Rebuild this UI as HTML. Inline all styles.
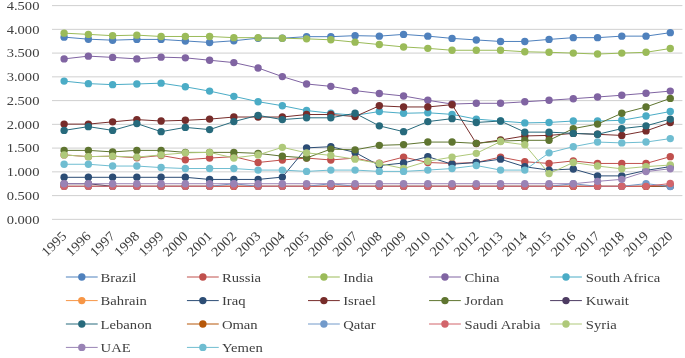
<!DOCTYPE html>
<html><head><meta charset="utf-8"><title>Chart</title>
<style>
html,body{margin:0;padding:0;background:#fff;}
svg{display:block;}
text{font-family:"Liberation Serif","Times New Roman",serif;fill:#404040;}
.ax{font-size:13.4px;}
.lg{font-size:13.5px;}
</style></head><body>
<svg width="685" height="358" viewBox="0 0 685 358">
<rect width="685" height="358" fill="#fff"/>
<line x1="52.0" x2="682.4" y1="219.35" y2="219.35" stroke="#CBCBCB" stroke-width="0.9"/>
<text class="ax" text-anchor="end" transform="translate(39.4,223.55) scale(1.085,1)">0.000</text>
<line x1="52.0" x2="682.4" y1="195.60" y2="195.60" stroke="#CBCBCB" stroke-width="0.9"/>
<text class="ax" text-anchor="end" transform="translate(39.4,199.80) scale(1.085,1)">0.500</text>
<line x1="52.0" x2="682.4" y1="171.85" y2="171.85" stroke="#CBCBCB" stroke-width="0.9"/>
<text class="ax" text-anchor="end" transform="translate(39.4,176.05) scale(1.085,1)">1.000</text>
<line x1="52.0" x2="682.4" y1="148.10" y2="148.10" stroke="#CBCBCB" stroke-width="0.9"/>
<text class="ax" text-anchor="end" transform="translate(39.4,152.30) scale(1.085,1)">1.500</text>
<line x1="52.0" x2="682.4" y1="124.35" y2="124.35" stroke="#CBCBCB" stroke-width="0.9"/>
<text class="ax" text-anchor="end" transform="translate(39.4,128.55) scale(1.085,1)">2.000</text>
<line x1="52.0" x2="682.4" y1="100.60" y2="100.60" stroke="#CBCBCB" stroke-width="0.9"/>
<text class="ax" text-anchor="end" transform="translate(39.4,104.80) scale(1.085,1)">2.500</text>
<line x1="52.0" x2="682.4" y1="76.85" y2="76.85" stroke="#CBCBCB" stroke-width="0.9"/>
<text class="ax" text-anchor="end" transform="translate(39.4,81.05) scale(1.085,1)">3.000</text>
<line x1="52.0" x2="682.4" y1="53.10" y2="53.10" stroke="#CBCBCB" stroke-width="0.9"/>
<text class="ax" text-anchor="end" transform="translate(39.4,57.30) scale(1.085,1)">3.500</text>
<line x1="52.0" x2="682.4" y1="29.35" y2="29.35" stroke="#CBCBCB" stroke-width="0.9"/>
<text class="ax" text-anchor="end" transform="translate(39.4,33.55) scale(1.085,1)">4.000</text>
<line x1="52.0" x2="682.4" y1="5.60" y2="5.60" stroke="#CBCBCB" stroke-width="0.9"/>
<text class="ax" text-anchor="end" transform="translate(39.4,9.80) scale(1.085,1)">4.500</text>
<g fill="#4F81BD" stroke="none"><polyline points="64.12,37.14 88.37,39.18 112.62,40.18 136.86,39.42 161.11,39.42 185.35,40.94 209.60,42.46 233.85,40.75 258.09,38.19 282.34,38.19 306.58,36.66 330.83,36.66 355.08,35.67 379.32,36.14 403.57,34.38 427.82,36.14 452.06,38.38 476.31,39.94 500.55,41.46 524.80,41.46 549.05,39.42 573.29,37.66 597.54,37.66 621.78,36.14 646.03,36.14 670.28,32.67" fill="none" stroke="#4F81BD" stroke-width="1.0" stroke-linejoin="round"/>
<circle cx="64.12" cy="37.14" r="3.7"/><circle cx="88.37" cy="39.18" r="3.7"/><circle cx="112.62" cy="40.18" r="3.7"/><circle cx="136.86" cy="39.42" r="3.7"/><circle cx="161.11" cy="39.42" r="3.7"/><circle cx="185.35" cy="40.94" r="3.7"/><circle cx="209.60" cy="42.46" r="3.7"/><circle cx="233.85" cy="40.75" r="3.7"/><circle cx="258.09" cy="38.19" r="3.7"/><circle cx="282.34" cy="38.19" r="3.7"/><circle cx="306.58" cy="36.66" r="3.7"/><circle cx="330.83" cy="36.66" r="3.7"/><circle cx="355.08" cy="35.67" r="3.7"/><circle cx="379.32" cy="36.14" r="3.7"/><circle cx="403.57" cy="34.38" r="3.7"/><circle cx="427.82" cy="36.14" r="3.7"/><circle cx="452.06" cy="38.38" r="3.7"/><circle cx="476.31" cy="39.94" r="3.7"/><circle cx="500.55" cy="41.46" r="3.7"/><circle cx="524.80" cy="41.46" r="3.7"/><circle cx="549.05" cy="39.42" r="3.7"/><circle cx="573.29" cy="37.66" r="3.7"/><circle cx="597.54" cy="37.66" r="3.7"/><circle cx="621.78" cy="36.14" r="3.7"/><circle cx="646.03" cy="36.14" r="3.7"/><circle cx="670.28" cy="32.67" r="3.7"/>
</g>
<g fill="#C0504D" stroke="none"><polyline points="64.12,154.89 88.37,156.65 112.62,156.17 136.86,157.84 161.11,155.46 185.35,159.69 209.60,158.07 233.85,156.65 258.09,162.49 282.34,159.97 306.58,158.07 330.83,159.97 355.08,158.07 379.32,163.30 403.57,157.12 427.82,162.49 452.06,163.44 476.31,162.49 500.55,157.12 524.80,161.73 549.05,163.44 573.29,160.93 597.54,163.44 621.78,163.44 646.03,163.44 670.28,156.65" fill="none" stroke="#C0504D" stroke-width="1.0" stroke-linejoin="round"/>
<circle cx="64.12" cy="154.89" r="3.7"/><circle cx="88.37" cy="156.65" r="3.7"/><circle cx="112.62" cy="156.17" r="3.7"/><circle cx="136.86" cy="157.84" r="3.7"/><circle cx="161.11" cy="155.46" r="3.7"/><circle cx="185.35" cy="159.69" r="3.7"/><circle cx="209.60" cy="158.07" r="3.7"/><circle cx="233.85" cy="156.65" r="3.7"/><circle cx="258.09" cy="162.49" r="3.7"/><circle cx="282.34" cy="159.97" r="3.7"/><circle cx="306.58" cy="158.07" r="3.7"/><circle cx="330.83" cy="159.97" r="3.7"/><circle cx="355.08" cy="158.07" r="3.7"/><circle cx="379.32" cy="163.30" r="3.7"/><circle cx="403.57" cy="157.12" r="3.7"/><circle cx="427.82" cy="162.49" r="3.7"/><circle cx="452.06" cy="163.44" r="3.7"/><circle cx="476.31" cy="162.49" r="3.7"/><circle cx="500.55" cy="157.12" r="3.7"/><circle cx="524.80" cy="161.73" r="3.7"/><circle cx="549.05" cy="163.44" r="3.7"/><circle cx="573.29" cy="160.93" r="3.7"/><circle cx="597.54" cy="163.44" r="3.7"/><circle cx="621.78" cy="163.44" r="3.7"/><circle cx="646.03" cy="163.44" r="3.7"/><circle cx="670.28" cy="156.65" r="3.7"/>
</g>
<g fill="#9BBB59" stroke="none"><polyline points="64.12,33.15 88.37,34.38 112.62,35.67 136.86,35.14 161.11,36.47 185.35,36.47 209.60,36.47 233.85,37.66 258.09,37.66 282.34,38.19 306.58,38.85 330.83,39.80 355.08,42.17 379.32,44.55 403.57,46.93 427.82,48.35 452.06,50.25 476.31,50.25 500.55,50.25 524.80,51.77 549.05,52.29 573.29,53.10 597.54,54.05 621.78,53.10 646.03,52.29 670.28,48.49" fill="none" stroke="#9BBB59" stroke-width="1.0" stroke-linejoin="round"/>
<circle cx="64.12" cy="33.15" r="3.7"/><circle cx="88.37" cy="34.38" r="3.7"/><circle cx="112.62" cy="35.67" r="3.7"/><circle cx="136.86" cy="35.14" r="3.7"/><circle cx="161.11" cy="36.47" r="3.7"/><circle cx="185.35" cy="36.47" r="3.7"/><circle cx="209.60" cy="36.47" r="3.7"/><circle cx="233.85" cy="37.66" r="3.7"/><circle cx="258.09" cy="37.66" r="3.7"/><circle cx="282.34" cy="38.19" r="3.7"/><circle cx="306.58" cy="38.85" r="3.7"/><circle cx="330.83" cy="39.80" r="3.7"/><circle cx="355.08" cy="42.17" r="3.7"/><circle cx="379.32" cy="44.55" r="3.7"/><circle cx="403.57" cy="46.93" r="3.7"/><circle cx="427.82" cy="48.35" r="3.7"/><circle cx="452.06" cy="50.25" r="3.7"/><circle cx="476.31" cy="50.25" r="3.7"/><circle cx="500.55" cy="50.25" r="3.7"/><circle cx="524.80" cy="51.77" r="3.7"/><circle cx="549.05" cy="52.29" r="3.7"/><circle cx="573.29" cy="53.10" r="3.7"/><circle cx="597.54" cy="54.05" r="3.7"/><circle cx="621.78" cy="53.10" r="3.7"/><circle cx="646.03" cy="52.29" r="3.7"/><circle cx="670.28" cy="48.49" r="3.7"/>
</g>
<g fill="#8064A2" stroke="none"><polyline points="64.12,58.89 88.37,56.14 112.62,57.38 136.86,58.89 161.11,57.14 185.35,57.85 209.60,60.22 233.85,62.60 258.09,67.97 282.34,76.61 306.58,83.97 330.83,86.35 355.08,90.62 379.32,93.47 403.57,95.99 427.82,100.27 452.06,104.07 476.31,103.31 500.55,103.31 524.80,101.79 549.05,100.27 573.29,98.70 597.54,96.99 621.78,95.23 646.03,93.24 670.28,91.10" fill="none" stroke="#8064A2" stroke-width="1.0" stroke-linejoin="round"/>
<circle cx="64.12" cy="58.89" r="3.7"/><circle cx="88.37" cy="56.14" r="3.7"/><circle cx="112.62" cy="57.38" r="3.7"/><circle cx="136.86" cy="58.89" r="3.7"/><circle cx="161.11" cy="57.14" r="3.7"/><circle cx="185.35" cy="57.85" r="3.7"/><circle cx="209.60" cy="60.22" r="3.7"/><circle cx="233.85" cy="62.60" r="3.7"/><circle cx="258.09" cy="67.97" r="3.7"/><circle cx="282.34" cy="76.61" r="3.7"/><circle cx="306.58" cy="83.97" r="3.7"/><circle cx="330.83" cy="86.35" r="3.7"/><circle cx="355.08" cy="90.62" r="3.7"/><circle cx="379.32" cy="93.47" r="3.7"/><circle cx="403.57" cy="95.99" r="3.7"/><circle cx="427.82" cy="100.27" r="3.7"/><circle cx="452.06" cy="104.07" r="3.7"/><circle cx="476.31" cy="103.31" r="3.7"/><circle cx="500.55" cy="103.31" r="3.7"/><circle cx="524.80" cy="101.79" r="3.7"/><circle cx="549.05" cy="100.27" r="3.7"/><circle cx="573.29" cy="98.70" r="3.7"/><circle cx="597.54" cy="96.99" r="3.7"/><circle cx="621.78" cy="95.23" r="3.7"/><circle cx="646.03" cy="93.24" r="3.7"/><circle cx="670.28" cy="91.10" r="3.7"/>
</g>
<g fill="#4BACC6" stroke="none"><polyline points="64.12,81.12 88.37,83.64 112.62,84.64 136.86,83.97 161.11,83.17 185.35,86.82 209.60,91.10 233.85,96.33 258.09,101.69 282.34,105.73 306.58,110.57 330.83,113.19 355.08,115.33 379.32,111.52 403.57,113.28 427.82,112.76 452.06,114.38 476.31,119.12 500.55,121.03 524.80,122.92 549.05,122.45 573.29,121.03 597.54,121.03 621.78,120.31 646.03,116.04 670.28,111.52" fill="none" stroke="#4BACC6" stroke-width="1.0" stroke-linejoin="round"/>
<circle cx="64.12" cy="81.12" r="3.7"/><circle cx="88.37" cy="83.64" r="3.7"/><circle cx="112.62" cy="84.64" r="3.7"/><circle cx="136.86" cy="83.97" r="3.7"/><circle cx="161.11" cy="83.17" r="3.7"/><circle cx="185.35" cy="86.82" r="3.7"/><circle cx="209.60" cy="91.10" r="3.7"/><circle cx="233.85" cy="96.33" r="3.7"/><circle cx="258.09" cy="101.69" r="3.7"/><circle cx="282.34" cy="105.73" r="3.7"/><circle cx="306.58" cy="110.57" r="3.7"/><circle cx="330.83" cy="113.19" r="3.7"/><circle cx="355.08" cy="115.33" r="3.7"/><circle cx="379.32" cy="111.52" r="3.7"/><circle cx="403.57" cy="113.28" r="3.7"/><circle cx="427.82" cy="112.76" r="3.7"/><circle cx="452.06" cy="114.38" r="3.7"/><circle cx="476.31" cy="119.12" r="3.7"/><circle cx="500.55" cy="121.03" r="3.7"/><circle cx="524.80" cy="122.92" r="3.7"/><circle cx="549.05" cy="122.45" r="3.7"/><circle cx="573.29" cy="121.03" r="3.7"/><circle cx="597.54" cy="121.03" r="3.7"/><circle cx="621.78" cy="120.31" r="3.7"/><circle cx="646.03" cy="116.04" r="3.7"/><circle cx="670.28" cy="111.52" r="3.7"/>
</g>
<g fill="#F79646" stroke="none"><polyline points="64.12,186.34 88.37,186.34 112.62,186.34 136.86,186.34 161.11,186.34 185.35,186.34 209.60,186.34 233.85,186.34 258.09,186.34 282.34,186.34 306.58,186.34 330.83,186.34 355.08,186.34 379.32,186.34 403.57,186.34 427.82,186.34 452.06,186.34 476.31,186.34 500.55,186.34 524.80,186.34 549.05,186.34 573.29,186.34 597.54,186.34 621.78,186.34 646.03,186.34 670.28,185.39" fill="none" stroke="#F79646" stroke-width="1.0" stroke-linejoin="round"/>
<circle cx="64.12" cy="186.34" r="3.7"/><circle cx="88.37" cy="186.34" r="3.7"/><circle cx="112.62" cy="186.34" r="3.7"/><circle cx="136.86" cy="186.34" r="3.7"/><circle cx="161.11" cy="186.34" r="3.7"/><circle cx="185.35" cy="186.34" r="3.7"/><circle cx="209.60" cy="186.34" r="3.7"/><circle cx="233.85" cy="186.34" r="3.7"/><circle cx="258.09" cy="186.34" r="3.7"/><circle cx="282.34" cy="186.34" r="3.7"/><circle cx="306.58" cy="186.34" r="3.7"/><circle cx="330.83" cy="186.34" r="3.7"/><circle cx="355.08" cy="186.34" r="3.7"/><circle cx="379.32" cy="186.34" r="3.7"/><circle cx="403.57" cy="186.34" r="3.7"/><circle cx="427.82" cy="186.34" r="3.7"/><circle cx="452.06" cy="186.34" r="3.7"/><circle cx="476.31" cy="186.34" r="3.7"/><circle cx="500.55" cy="186.34" r="3.7"/><circle cx="524.80" cy="186.34" r="3.7"/><circle cx="549.05" cy="186.34" r="3.7"/><circle cx="573.29" cy="186.34" r="3.7"/><circle cx="597.54" cy="186.34" r="3.7"/><circle cx="621.78" cy="186.34" r="3.7"/><circle cx="646.03" cy="186.34" r="3.7"/><circle cx="670.28" cy="185.39" r="3.7"/>
</g>
<g fill="#2C4D75" stroke="none"><polyline points="64.12,177.31 88.37,177.31 112.62,177.31 136.86,177.31 161.11,177.31 185.35,177.31 209.60,179.45 233.85,179.45 258.09,179.45 282.34,177.12 306.58,147.86 330.83,146.68 355.08,152.38 379.32,165.53 403.57,163.01 427.82,156.65 452.06,164.25 476.31,162.49 500.55,159.17 524.80,166.77 549.05,170.09 573.29,169.00 597.54,175.89 621.78,175.89 646.03,170.42 670.28,166.62" fill="none" stroke="#2C4D75" stroke-width="1.0" stroke-linejoin="round"/>
<circle cx="64.12" cy="177.31" r="3.7"/><circle cx="88.37" cy="177.31" r="3.7"/><circle cx="112.62" cy="177.31" r="3.7"/><circle cx="136.86" cy="177.31" r="3.7"/><circle cx="161.11" cy="177.31" r="3.7"/><circle cx="185.35" cy="177.31" r="3.7"/><circle cx="209.60" cy="179.45" r="3.7"/><circle cx="233.85" cy="179.45" r="3.7"/><circle cx="258.09" cy="179.45" r="3.7"/><circle cx="282.34" cy="177.12" r="3.7"/><circle cx="306.58" cy="147.86" r="3.7"/><circle cx="330.83" cy="146.68" r="3.7"/><circle cx="355.08" cy="152.38" r="3.7"/><circle cx="379.32" cy="165.53" r="3.7"/><circle cx="403.57" cy="163.01" r="3.7"/><circle cx="427.82" cy="156.65" r="3.7"/><circle cx="452.06" cy="164.25" r="3.7"/><circle cx="476.31" cy="162.49" r="3.7"/><circle cx="500.55" cy="159.17" r="3.7"/><circle cx="524.80" cy="166.77" r="3.7"/><circle cx="549.05" cy="170.09" r="3.7"/><circle cx="573.29" cy="169.00" r="3.7"/><circle cx="597.54" cy="175.89" r="3.7"/><circle cx="621.78" cy="175.89" r="3.7"/><circle cx="646.03" cy="170.42" r="3.7"/><circle cx="670.28" cy="166.62" r="3.7"/>
</g>
<g fill="#772C2A" stroke="none"><polyline points="64.12,124.11 88.37,124.11 112.62,121.83 136.86,119.60 161.11,121.03 185.35,120.31 209.60,119.12 233.85,117.03 258.09,117.03 282.34,117.03 306.58,114.52 330.83,114.52 355.08,116.56 379.32,105.82 403.57,106.96 427.82,106.96 452.06,104.68 476.31,143.49 500.55,140.02 524.80,135.94 549.05,135.42 573.29,133.38 597.54,134.32 621.78,135.42 646.03,130.90 670.28,122.45" fill="none" stroke="#772C2A" stroke-width="1.0" stroke-linejoin="round"/>
<circle cx="64.12" cy="124.11" r="3.7"/><circle cx="88.37" cy="124.11" r="3.7"/><circle cx="112.62" cy="121.83" r="3.7"/><circle cx="136.86" cy="119.60" r="3.7"/><circle cx="161.11" cy="121.03" r="3.7"/><circle cx="185.35" cy="120.31" r="3.7"/><circle cx="209.60" cy="119.12" r="3.7"/><circle cx="233.85" cy="117.03" r="3.7"/><circle cx="258.09" cy="117.03" r="3.7"/><circle cx="282.34" cy="117.03" r="3.7"/><circle cx="306.58" cy="114.52" r="3.7"/><circle cx="330.83" cy="114.52" r="3.7"/><circle cx="355.08" cy="116.56" r="3.7"/><circle cx="379.32" cy="105.82" r="3.7"/><circle cx="403.57" cy="106.96" r="3.7"/><circle cx="427.82" cy="106.96" r="3.7"/><circle cx="452.06" cy="104.68" r="3.7"/><circle cx="476.31" cy="143.49" r="3.7"/><circle cx="500.55" cy="140.02" r="3.7"/><circle cx="524.80" cy="135.94" r="3.7"/><circle cx="549.05" cy="135.42" r="3.7"/><circle cx="573.29" cy="133.38" r="3.7"/><circle cx="597.54" cy="134.32" r="3.7"/><circle cx="621.78" cy="135.42" r="3.7"/><circle cx="646.03" cy="130.90" r="3.7"/><circle cx="670.28" cy="122.45" r="3.7"/>
</g>
<g fill="#5F7530" stroke="none"><polyline points="64.12,150.38 88.37,150.38 112.62,151.90 136.86,150.38 161.11,150.38 185.35,152.38 209.60,152.38 233.85,152.38 258.09,153.37 282.34,156.17 306.58,157.93 330.83,149.10 355.08,149.86 379.32,145.34 403.57,144.58 427.82,142.07 452.06,142.07 476.31,143.35 500.55,141.07 524.80,140.31 549.05,140.31 573.29,128.62 597.54,124.11 621.78,113.28 646.03,106.96 670.28,98.42" fill="none" stroke="#5F7530" stroke-width="1.0" stroke-linejoin="round"/>
<circle cx="64.12" cy="150.38" r="3.7"/><circle cx="88.37" cy="150.38" r="3.7"/><circle cx="112.62" cy="151.90" r="3.7"/><circle cx="136.86" cy="150.38" r="3.7"/><circle cx="161.11" cy="150.38" r="3.7"/><circle cx="185.35" cy="152.38" r="3.7"/><circle cx="209.60" cy="152.38" r="3.7"/><circle cx="233.85" cy="152.38" r="3.7"/><circle cx="258.09" cy="153.37" r="3.7"/><circle cx="282.34" cy="156.17" r="3.7"/><circle cx="306.58" cy="157.93" r="3.7"/><circle cx="330.83" cy="149.10" r="3.7"/><circle cx="355.08" cy="149.86" r="3.7"/><circle cx="379.32" cy="145.34" r="3.7"/><circle cx="403.57" cy="144.58" r="3.7"/><circle cx="427.82" cy="142.07" r="3.7"/><circle cx="452.06" cy="142.07" r="3.7"/><circle cx="476.31" cy="143.35" r="3.7"/><circle cx="500.55" cy="141.07" r="3.7"/><circle cx="524.80" cy="140.31" r="3.7"/><circle cx="549.05" cy="140.31" r="3.7"/><circle cx="573.29" cy="128.62" r="3.7"/><circle cx="597.54" cy="124.11" r="3.7"/><circle cx="621.78" cy="113.28" r="3.7"/><circle cx="646.03" cy="106.96" r="3.7"/><circle cx="670.28" cy="98.42" r="3.7"/>
</g>
<g fill="#4D3B62" stroke="none"><polyline points="64.12,183.72 88.37,183.72 112.62,186.34 136.86,186.34 161.11,186.34 185.35,186.34 209.60,186.34 233.85,186.34 258.09,186.34 282.34,186.34 306.58,186.34 330.83,186.34 355.08,186.34 379.32,186.34 403.57,186.34 427.82,186.34 452.06,186.34 476.31,186.34 500.55,186.34 524.80,186.34 549.05,186.34 573.29,186.34 597.54,186.34 621.78,186.34 646.03,186.34 670.28,186.34" fill="none" stroke="#4D3B62" stroke-width="1.0" stroke-linejoin="round"/>
<circle cx="64.12" cy="183.72" r="3.7"/><circle cx="88.37" cy="183.72" r="3.7"/><circle cx="112.62" cy="186.34" r="3.7"/><circle cx="136.86" cy="186.34" r="3.7"/><circle cx="161.11" cy="186.34" r="3.7"/><circle cx="185.35" cy="186.34" r="3.7"/><circle cx="209.60" cy="186.34" r="3.7"/><circle cx="233.85" cy="186.34" r="3.7"/><circle cx="258.09" cy="186.34" r="3.7"/><circle cx="282.34" cy="186.34" r="3.7"/><circle cx="306.58" cy="186.34" r="3.7"/><circle cx="330.83" cy="186.34" r="3.7"/><circle cx="355.08" cy="186.34" r="3.7"/><circle cx="379.32" cy="186.34" r="3.7"/><circle cx="403.57" cy="186.34" r="3.7"/><circle cx="427.82" cy="186.34" r="3.7"/><circle cx="452.06" cy="186.34" r="3.7"/><circle cx="476.31" cy="186.34" r="3.7"/><circle cx="500.55" cy="186.34" r="3.7"/><circle cx="524.80" cy="186.34" r="3.7"/><circle cx="549.05" cy="186.34" r="3.7"/><circle cx="573.29" cy="186.34" r="3.7"/><circle cx="597.54" cy="186.34" r="3.7"/><circle cx="621.78" cy="186.34" r="3.7"/><circle cx="646.03" cy="186.34" r="3.7"/><circle cx="670.28" cy="186.34" r="3.7"/>
</g>
<g fill="#276A7C" stroke="none"><polyline points="64.12,130.38 88.37,126.63 112.62,130.38 136.86,123.59 161.11,131.66 185.35,127.39 209.60,129.62 233.85,121.59 258.09,115.33 282.34,119.60 306.58,117.80 330.83,117.80 355.08,113.28 379.32,125.87 403.57,131.66 427.82,121.59 452.06,118.65 476.31,122.45 500.55,121.03 524.80,132.14 549.05,132.14 573.29,133.38 597.54,134.32 621.78,128.62 646.03,125.87 670.28,119.12" fill="none" stroke="#276A7C" stroke-width="1.0" stroke-linejoin="round"/>
<circle cx="64.12" cy="130.38" r="3.7"/><circle cx="88.37" cy="126.63" r="3.7"/><circle cx="112.62" cy="130.38" r="3.7"/><circle cx="136.86" cy="123.59" r="3.7"/><circle cx="161.11" cy="131.66" r="3.7"/><circle cx="185.35" cy="127.39" r="3.7"/><circle cx="209.60" cy="129.62" r="3.7"/><circle cx="233.85" cy="121.59" r="3.7"/><circle cx="258.09" cy="115.33" r="3.7"/><circle cx="282.34" cy="119.60" r="3.7"/><circle cx="306.58" cy="117.80" r="3.7"/><circle cx="330.83" cy="117.80" r="3.7"/><circle cx="355.08" cy="113.28" r="3.7"/><circle cx="379.32" cy="125.87" r="3.7"/><circle cx="403.57" cy="131.66" r="3.7"/><circle cx="427.82" cy="121.59" r="3.7"/><circle cx="452.06" cy="118.65" r="3.7"/><circle cx="476.31" cy="122.45" r="3.7"/><circle cx="500.55" cy="121.03" r="3.7"/><circle cx="524.80" cy="132.14" r="3.7"/><circle cx="549.05" cy="132.14" r="3.7"/><circle cx="573.29" cy="133.38" r="3.7"/><circle cx="597.54" cy="134.32" r="3.7"/><circle cx="621.78" cy="128.62" r="3.7"/><circle cx="646.03" cy="125.87" r="3.7"/><circle cx="670.28" cy="119.12" r="3.7"/>
</g>
<g fill="#B65708" stroke="none"><polyline points="64.12,186.34 88.37,186.34 112.62,186.34 136.86,186.34 161.11,186.34 185.35,186.34 209.60,186.34 233.85,186.34 258.09,186.34 282.34,186.34 306.58,186.34 330.83,186.34 355.08,186.34 379.32,186.34 403.57,186.34 427.82,186.34 452.06,186.34 476.31,186.34 500.55,186.34 524.80,186.34 549.05,186.34 573.29,186.34 597.54,186.34 621.78,186.34 646.03,186.34 670.28,185.86" fill="none" stroke="#B65708" stroke-width="1.0" stroke-linejoin="round"/>
<circle cx="64.12" cy="186.34" r="3.7"/><circle cx="88.37" cy="186.34" r="3.7"/><circle cx="112.62" cy="186.34" r="3.7"/><circle cx="136.86" cy="186.34" r="3.7"/><circle cx="161.11" cy="186.34" r="3.7"/><circle cx="185.35" cy="186.34" r="3.7"/><circle cx="209.60" cy="186.34" r="3.7"/><circle cx="233.85" cy="186.34" r="3.7"/><circle cx="258.09" cy="186.34" r="3.7"/><circle cx="282.34" cy="186.34" r="3.7"/><circle cx="306.58" cy="186.34" r="3.7"/><circle cx="330.83" cy="186.34" r="3.7"/><circle cx="355.08" cy="186.34" r="3.7"/><circle cx="379.32" cy="186.34" r="3.7"/><circle cx="403.57" cy="186.34" r="3.7"/><circle cx="427.82" cy="186.34" r="3.7"/><circle cx="452.06" cy="186.34" r="3.7"/><circle cx="476.31" cy="186.34" r="3.7"/><circle cx="500.55" cy="186.34" r="3.7"/><circle cx="524.80" cy="186.34" r="3.7"/><circle cx="549.05" cy="186.34" r="3.7"/><circle cx="573.29" cy="186.34" r="3.7"/><circle cx="597.54" cy="186.34" r="3.7"/><circle cx="621.78" cy="186.34" r="3.7"/><circle cx="646.03" cy="186.34" r="3.7"/><circle cx="670.28" cy="185.86" r="3.7"/>
</g>
<g fill="#729ACA" stroke="none"><polyline points="64.12,186.34 88.37,186.34 112.62,186.34 136.86,186.34 161.11,186.34 185.35,186.34 209.60,186.34 233.85,183.72 258.09,186.34 282.34,186.34 306.58,186.34 330.83,183.72 355.08,186.34 379.32,186.34 403.57,186.34 427.82,186.34 452.06,186.34 476.31,186.34 500.55,186.34 524.80,186.34 549.05,186.34 573.29,183.72 597.54,186.34 621.78,186.34 646.03,183.63 670.28,186.48" fill="none" stroke="#729ACA" stroke-width="1.0" stroke-linejoin="round"/>
<circle cx="64.12" cy="186.34" r="3.7"/><circle cx="88.37" cy="186.34" r="3.7"/><circle cx="112.62" cy="186.34" r="3.7"/><circle cx="136.86" cy="186.34" r="3.7"/><circle cx="161.11" cy="186.34" r="3.7"/><circle cx="185.35" cy="186.34" r="3.7"/><circle cx="209.60" cy="186.34" r="3.7"/><circle cx="233.85" cy="183.72" r="3.7"/><circle cx="258.09" cy="186.34" r="3.7"/><circle cx="282.34" cy="186.34" r="3.7"/><circle cx="306.58" cy="186.34" r="3.7"/><circle cx="330.83" cy="183.72" r="3.7"/><circle cx="355.08" cy="186.34" r="3.7"/><circle cx="379.32" cy="186.34" r="3.7"/><circle cx="403.57" cy="186.34" r="3.7"/><circle cx="427.82" cy="186.34" r="3.7"/><circle cx="452.06" cy="186.34" r="3.7"/><circle cx="476.31" cy="186.34" r="3.7"/><circle cx="500.55" cy="186.34" r="3.7"/><circle cx="524.80" cy="186.34" r="3.7"/><circle cx="549.05" cy="186.34" r="3.7"/><circle cx="573.29" cy="183.72" r="3.7"/><circle cx="597.54" cy="186.34" r="3.7"/><circle cx="621.78" cy="186.34" r="3.7"/><circle cx="646.03" cy="183.63" r="3.7"/><circle cx="670.28" cy="186.48" r="3.7"/>
</g>
<g fill="#D2646B" stroke="none"><polyline points="64.12,186.34 88.37,186.34 112.62,186.34 136.86,186.34 161.11,186.34 185.35,186.34 209.60,186.34 233.85,186.34 258.09,186.34 282.34,186.34 306.58,186.34 330.83,186.34 355.08,186.34 379.32,186.34 403.57,186.34 427.82,186.34 452.06,186.34 476.31,186.34 500.55,186.34 524.80,186.34 549.05,186.34 573.29,186.34 597.54,186.34 621.78,186.34 646.03,186.34 670.28,183.49" fill="none" stroke="#D2646B" stroke-width="1.0" stroke-linejoin="round"/>
<circle cx="64.12" cy="186.34" r="3.7"/><circle cx="88.37" cy="186.34" r="3.7"/><circle cx="112.62" cy="186.34" r="3.7"/><circle cx="136.86" cy="186.34" r="3.7"/><circle cx="161.11" cy="186.34" r="3.7"/><circle cx="185.35" cy="186.34" r="3.7"/><circle cx="209.60" cy="186.34" r="3.7"/><circle cx="233.85" cy="186.34" r="3.7"/><circle cx="258.09" cy="186.34" r="3.7"/><circle cx="282.34" cy="186.34" r="3.7"/><circle cx="306.58" cy="186.34" r="3.7"/><circle cx="330.83" cy="186.34" r="3.7"/><circle cx="355.08" cy="186.34" r="3.7"/><circle cx="379.32" cy="186.34" r="3.7"/><circle cx="403.57" cy="186.34" r="3.7"/><circle cx="427.82" cy="186.34" r="3.7"/><circle cx="452.06" cy="186.34" r="3.7"/><circle cx="476.31" cy="186.34" r="3.7"/><circle cx="500.55" cy="186.34" r="3.7"/><circle cx="524.80" cy="186.34" r="3.7"/><circle cx="549.05" cy="186.34" r="3.7"/><circle cx="573.29" cy="186.34" r="3.7"/><circle cx="597.54" cy="186.34" r="3.7"/><circle cx="621.78" cy="186.34" r="3.7"/><circle cx="646.03" cy="186.34" r="3.7"/><circle cx="670.28" cy="183.49" r="3.7"/>
</g>
<g fill="#AFC97A" stroke="none"><polyline points="64.12,154.89 88.37,156.65 112.62,156.17 136.86,157.12 161.11,154.89 185.35,152.85 209.60,152.38 233.85,157.93 258.09,154.89 282.34,147.34 306.58,152.85 330.83,155.41 355.08,159.17 379.32,163.44 403.57,168.52 427.82,161.21 452.06,157.12 476.31,153.37 500.55,141.55 524.80,144.77 549.05,173.61 573.29,162.49 597.54,166.06 621.78,168.81 646.03,166.62 670.28,165.06" fill="none" stroke="#AFC97A" stroke-width="1.0" stroke-linejoin="round"/>
<circle cx="64.12" cy="154.89" r="3.7"/><circle cx="88.37" cy="156.65" r="3.7"/><circle cx="112.62" cy="156.17" r="3.7"/><circle cx="136.86" cy="157.12" r="3.7"/><circle cx="161.11" cy="154.89" r="3.7"/><circle cx="185.35" cy="152.85" r="3.7"/><circle cx="209.60" cy="152.38" r="3.7"/><circle cx="233.85" cy="157.93" r="3.7"/><circle cx="258.09" cy="154.89" r="3.7"/><circle cx="282.34" cy="147.34" r="3.7"/><circle cx="306.58" cy="152.85" r="3.7"/><circle cx="330.83" cy="155.41" r="3.7"/><circle cx="355.08" cy="159.17" r="3.7"/><circle cx="379.32" cy="163.44" r="3.7"/><circle cx="403.57" cy="168.52" r="3.7"/><circle cx="427.82" cy="161.21" r="3.7"/><circle cx="452.06" cy="157.12" r="3.7"/><circle cx="476.31" cy="153.37" r="3.7"/><circle cx="500.55" cy="141.55" r="3.7"/><circle cx="524.80" cy="144.77" r="3.7"/><circle cx="549.05" cy="173.61" r="3.7"/><circle cx="573.29" cy="162.49" r="3.7"/><circle cx="597.54" cy="166.06" r="3.7"/><circle cx="621.78" cy="168.81" r="3.7"/><circle cx="646.03" cy="166.62" r="3.7"/><circle cx="670.28" cy="165.06" r="3.7"/>
</g>
<g fill="#9983B5" stroke="none"><polyline points="64.12,183.72 88.37,183.72 112.62,183.72 136.86,183.72 161.11,183.72 185.35,183.72 209.60,183.72 233.85,183.72 258.09,183.72 282.34,183.72 306.58,183.72 330.83,183.72 355.08,183.72 379.32,183.72 403.57,183.72 427.82,183.72 452.06,183.72 476.31,183.72 500.55,183.72 524.80,183.72 549.05,183.72 573.29,183.72 597.54,181.35 621.78,179.35 646.03,171.61 670.28,168.71" fill="none" stroke="#9983B5" stroke-width="1.0" stroke-linejoin="round"/>
<circle cx="64.12" cy="183.72" r="3.7"/><circle cx="88.37" cy="183.72" r="3.7"/><circle cx="112.62" cy="183.72" r="3.7"/><circle cx="136.86" cy="183.72" r="3.7"/><circle cx="161.11" cy="183.72" r="3.7"/><circle cx="185.35" cy="183.72" r="3.7"/><circle cx="209.60" cy="183.72" r="3.7"/><circle cx="233.85" cy="183.72" r="3.7"/><circle cx="258.09" cy="183.72" r="3.7"/><circle cx="282.34" cy="183.72" r="3.7"/><circle cx="306.58" cy="183.72" r="3.7"/><circle cx="330.83" cy="183.72" r="3.7"/><circle cx="355.08" cy="183.72" r="3.7"/><circle cx="379.32" cy="183.72" r="3.7"/><circle cx="403.57" cy="183.72" r="3.7"/><circle cx="427.82" cy="183.72" r="3.7"/><circle cx="452.06" cy="183.72" r="3.7"/><circle cx="476.31" cy="183.72" r="3.7"/><circle cx="500.55" cy="183.72" r="3.7"/><circle cx="524.80" cy="183.72" r="3.7"/><circle cx="549.05" cy="183.72" r="3.7"/><circle cx="573.29" cy="183.72" r="3.7"/><circle cx="597.54" cy="181.35" r="3.7"/><circle cx="621.78" cy="179.35" r="3.7"/><circle cx="646.03" cy="171.61" r="3.7"/><circle cx="670.28" cy="168.71" r="3.7"/>
</g>
<g fill="#6FBDD1" stroke="none"><polyline points="64.12,164.25 88.37,164.25 112.62,166.06 136.86,166.06 161.11,167.57 185.35,168.52 209.60,168.52 233.85,168.52 258.09,170.09 282.34,170.09 306.58,171.38 330.83,170.09 355.08,170.09 379.32,171.38 403.57,171.38 427.82,170.09 452.06,168.52 476.31,165.53 500.55,170.09 524.80,170.09 549.05,152.85 573.29,146.68 597.54,142.07 621.78,142.88 646.03,142.07 670.28,138.60" fill="none" stroke="#6FBDD1" stroke-width="1.0" stroke-linejoin="round"/>
<circle cx="64.12" cy="164.25" r="3.7"/><circle cx="88.37" cy="164.25" r="3.7"/><circle cx="112.62" cy="166.06" r="3.7"/><circle cx="136.86" cy="166.06" r="3.7"/><circle cx="161.11" cy="167.57" r="3.7"/><circle cx="185.35" cy="168.52" r="3.7"/><circle cx="209.60" cy="168.52" r="3.7"/><circle cx="233.85" cy="168.52" r="3.7"/><circle cx="258.09" cy="170.09" r="3.7"/><circle cx="282.34" cy="170.09" r="3.7"/><circle cx="306.58" cy="171.38" r="3.7"/><circle cx="330.83" cy="170.09" r="3.7"/><circle cx="355.08" cy="170.09" r="3.7"/><circle cx="379.32" cy="171.38" r="3.7"/><circle cx="403.57" cy="171.38" r="3.7"/><circle cx="427.82" cy="170.09" r="3.7"/><circle cx="452.06" cy="168.52" r="3.7"/><circle cx="476.31" cy="165.53" r="3.7"/><circle cx="500.55" cy="170.09" r="3.7"/><circle cx="524.80" cy="170.09" r="3.7"/><circle cx="549.05" cy="152.85" r="3.7"/><circle cx="573.29" cy="146.68" r="3.7"/><circle cx="597.54" cy="142.07" r="3.7"/><circle cx="621.78" cy="142.88" r="3.7"/><circle cx="646.03" cy="142.07" r="3.7"/><circle cx="670.28" cy="138.60" r="3.7"/>
</g>
<text class="ax" text-anchor="end" transform="translate(67.32,236.80) rotate(-45) scale(1.085,1)">1995</text>
<text class="ax" text-anchor="end" transform="translate(91.57,236.80) rotate(-45) scale(1.085,1)">1996</text>
<text class="ax" text-anchor="end" transform="translate(115.82,236.80) rotate(-45) scale(1.085,1)">1997</text>
<text class="ax" text-anchor="end" transform="translate(140.06,236.80) rotate(-45) scale(1.085,1)">1998</text>
<text class="ax" text-anchor="end" transform="translate(164.31,236.80) rotate(-45) scale(1.085,1)">1999</text>
<text class="ax" text-anchor="end" transform="translate(188.55,236.80) rotate(-45) scale(1.085,1)">2000</text>
<text class="ax" text-anchor="end" transform="translate(212.80,236.80) rotate(-45) scale(1.085,1)">2001</text>
<text class="ax" text-anchor="end" transform="translate(237.05,236.80) rotate(-45) scale(1.085,1)">2002</text>
<text class="ax" text-anchor="end" transform="translate(261.29,236.80) rotate(-45) scale(1.085,1)">2003</text>
<text class="ax" text-anchor="end" transform="translate(285.54,236.80) rotate(-45) scale(1.085,1)">2004</text>
<text class="ax" text-anchor="end" transform="translate(309.78,236.80) rotate(-45) scale(1.085,1)">2005</text>
<text class="ax" text-anchor="end" transform="translate(334.03,236.80) rotate(-45) scale(1.085,1)">2006</text>
<text class="ax" text-anchor="end" transform="translate(358.28,236.80) rotate(-45) scale(1.085,1)">2007</text>
<text class="ax" text-anchor="end" transform="translate(382.52,236.80) rotate(-45) scale(1.085,1)">2008</text>
<text class="ax" text-anchor="end" transform="translate(406.77,236.80) rotate(-45) scale(1.085,1)">2009</text>
<text class="ax" text-anchor="end" transform="translate(431.02,236.80) rotate(-45) scale(1.085,1)">2010</text>
<text class="ax" text-anchor="end" transform="translate(455.26,236.80) rotate(-45) scale(1.085,1)">2011</text>
<text class="ax" text-anchor="end" transform="translate(479.51,236.80) rotate(-45) scale(1.085,1)">2012</text>
<text class="ax" text-anchor="end" transform="translate(503.75,236.80) rotate(-45) scale(1.085,1)">2013</text>
<text class="ax" text-anchor="end" transform="translate(528.00,236.80) rotate(-45) scale(1.085,1)">2014</text>
<text class="ax" text-anchor="end" transform="translate(552.25,236.80) rotate(-45) scale(1.085,1)">2015</text>
<text class="ax" text-anchor="end" transform="translate(576.49,236.80) rotate(-45) scale(1.085,1)">2016</text>
<text class="ax" text-anchor="end" transform="translate(600.74,236.80) rotate(-45) scale(1.085,1)">2017</text>
<text class="ax" text-anchor="end" transform="translate(624.98,236.80) rotate(-45) scale(1.085,1)">2018</text>
<text class="ax" text-anchor="end" transform="translate(649.23,236.80) rotate(-45) scale(1.085,1)">2019</text>
<text class="ax" text-anchor="end" transform="translate(673.48,236.80) rotate(-45) scale(1.085,1)">2020</text>
<line x1="65.90" x2="97.70" y1="277.0" y2="277.0" stroke="#4F81BD" stroke-width="1.0"/><circle cx="81.80" cy="277.0" r="3.7" fill="#4F81BD"/>
<text class="lg" transform="translate(100.60,281.50) scale(1.085,1)">Brazil</text>
<line x1="186.95" x2="218.75" y1="277.0" y2="277.0" stroke="#C0504D" stroke-width="1.0"/><circle cx="202.85" cy="277.0" r="3.7" fill="#C0504D"/>
<text class="lg" transform="translate(221.90,281.50) scale(1.085,1)">Russia</text>
<line x1="308.00" x2="339.80" y1="277.0" y2="277.0" stroke="#9BBB59" stroke-width="1.0"/><circle cx="323.90" cy="277.0" r="3.7" fill="#9BBB59"/>
<text class="lg" transform="translate(343.20,281.50) scale(1.085,1)">India</text>
<line x1="429.05" x2="460.85" y1="277.0" y2="277.0" stroke="#8064A2" stroke-width="1.0"/><circle cx="444.95" cy="277.0" r="3.7" fill="#8064A2"/>
<text class="lg" transform="translate(464.50,281.50) scale(1.085,1)">China</text>
<line x1="550.10" x2="581.90" y1="277.0" y2="277.0" stroke="#4BACC6" stroke-width="1.0"/><circle cx="566.00" cy="277.0" r="3.7" fill="#4BACC6"/>
<text class="lg" transform="translate(585.80,281.50) scale(1.085,1)">South Africa</text>
<line x1="65.90" x2="97.70" y1="300.6" y2="300.6" stroke="#F79646" stroke-width="1.0"/><circle cx="81.80" cy="300.6" r="3.7" fill="#F79646"/>
<text class="lg" transform="translate(100.60,305.10) scale(1.085,1)">Bahrain</text>
<line x1="186.95" x2="218.75" y1="300.6" y2="300.6" stroke="#2C4D75" stroke-width="1.0"/><circle cx="202.85" cy="300.6" r="3.7" fill="#2C4D75"/>
<text class="lg" transform="translate(221.90,305.10) scale(1.085,1)">Iraq</text>
<line x1="308.00" x2="339.80" y1="300.6" y2="300.6" stroke="#772C2A" stroke-width="1.0"/><circle cx="323.90" cy="300.6" r="3.7" fill="#772C2A"/>
<text class="lg" transform="translate(343.20,305.10) scale(1.085,1)">Israel</text>
<line x1="429.05" x2="460.85" y1="300.6" y2="300.6" stroke="#5F7530" stroke-width="1.0"/><circle cx="444.95" cy="300.6" r="3.7" fill="#5F7530"/>
<text class="lg" transform="translate(464.50,305.10) scale(1.085,1)">Jordan</text>
<line x1="550.10" x2="581.90" y1="300.6" y2="300.6" stroke="#4D3B62" stroke-width="1.0"/><circle cx="566.00" cy="300.6" r="3.7" fill="#4D3B62"/>
<text class="lg" transform="translate(585.80,305.10) scale(1.085,1)">Kuwait</text>
<line x1="65.90" x2="97.70" y1="324.0" y2="324.0" stroke="#276A7C" stroke-width="1.0"/><circle cx="81.80" cy="324.0" r="3.7" fill="#276A7C"/>
<text class="lg" transform="translate(100.60,328.50) scale(1.085,1)">Lebanon</text>
<line x1="186.95" x2="218.75" y1="324.0" y2="324.0" stroke="#B65708" stroke-width="1.0"/><circle cx="202.85" cy="324.0" r="3.7" fill="#B65708"/>
<text class="lg" transform="translate(221.90,328.50) scale(1.085,1)">Oman</text>
<line x1="308.00" x2="339.80" y1="324.0" y2="324.0" stroke="#729ACA" stroke-width="1.0"/><circle cx="323.90" cy="324.0" r="3.7" fill="#729ACA"/>
<text class="lg" transform="translate(343.20,328.50) scale(1.085,1)">Qatar</text>
<line x1="429.05" x2="460.85" y1="324.0" y2="324.0" stroke="#D2646B" stroke-width="1.0"/><circle cx="444.95" cy="324.0" r="3.7" fill="#D2646B"/>
<text class="lg" transform="translate(464.50,328.50) scale(1.085,1)">Saudi Arabia</text>
<line x1="550.10" x2="581.90" y1="324.0" y2="324.0" stroke="#AFC97A" stroke-width="1.0"/><circle cx="566.00" cy="324.0" r="3.7" fill="#AFC97A"/>
<text class="lg" transform="translate(585.80,328.50) scale(1.085,1)">Syria</text>
<line x1="65.90" x2="97.70" y1="347.4" y2="347.4" stroke="#9983B5" stroke-width="1.0"/><circle cx="81.80" cy="347.4" r="3.7" fill="#9983B5"/>
<text class="lg" transform="translate(100.60,351.90) scale(1.085,1)">UAE</text>
<line x1="186.95" x2="218.75" y1="347.4" y2="347.4" stroke="#6FBDD1" stroke-width="1.0"/><circle cx="202.85" cy="347.4" r="3.7" fill="#6FBDD1"/>
<text class="lg" transform="translate(221.90,351.90) scale(1.085,1)">Yemen</text>
</svg>
</body></html>
